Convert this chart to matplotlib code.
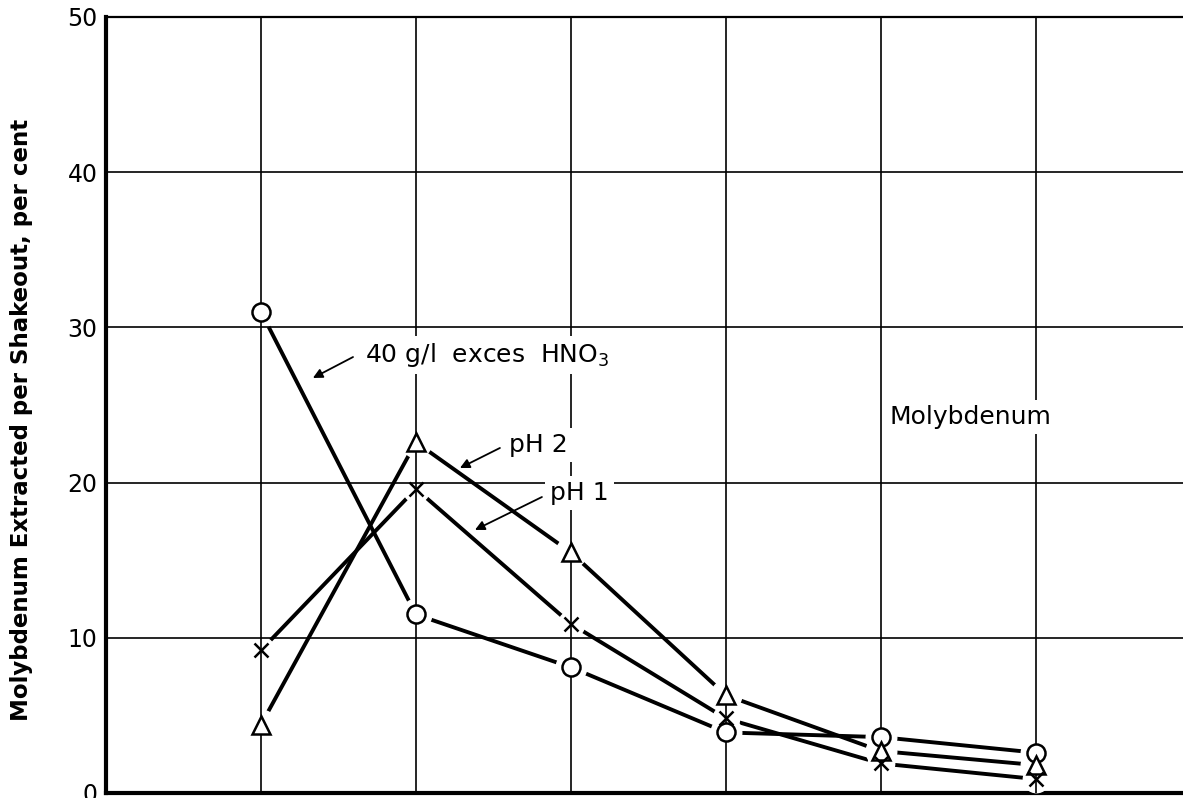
import matplotlib.pyplot as plt
import numpy as np

# numarul extractiei (shakeout)
shakeout = [1, 2, 3, 4, 5, 6]

# procent extras per extractie
hno3_40 = [31.0, 11.5, 8.1, 3.9, 3.6, 2.6]
ph2 = [4.4, 22.6, 15.5, 6.3, 2.7, 1.8]
ph1 = [9.2, 19.6, 10.9, 4.8, 1.9, 0.9]

y_ticks = [0, 10, 20, 30, 40, 50]

fig = plt.figure(figsize=(11.83, 7.98), dpi=100)
ax = fig.add_axes([0.0896, 0.0063, 1 - 0.0896, 0.9724])

ax.set_xlim(0, 6.95)
ax.set_ylim(0, 50)
ax.set_xticks(range(1, 7))
ax.set_yticks(y_ticks)
ax.set_xticklabels([])
ax.set_yticklabels([str(v) for v in y_ticks], fontsize=17)
ax.tick_params(length=0, pad=6)

# grila desenata peste halo-urile albe, sub markere
for xv in shakeout:
    ax.axvline(xv, color='black', linewidth=1.2, zorder=4.5)
for yv in y_ticks[1:-1]:
    ax.axhline(yv, color='black', linewidth=1.2, zorder=4.5)

ax.spines['right'].set_visible(False)
ax.spines['top'].set_linewidth(1.6)
ax.spines['left'].set_linewidth(3)
ax.spines['bottom'].set_linewidth(3)

serii = [(hno3_40, 'o', 13), (ph2, '^', 13), (ph1, 'x', 10)]
for y, m, ms in serii:
    ax.plot(shakeout, y, '-', color='black', linewidth=2.8, zorder=3)
for y, m, ms in serii:
    # halo alb ca liniile sa nu atinga markerele
    ax.plot(shakeout, y, linestyle='none', marker='o', markersize=ms + 9,
            markerfacecolor='white', markeredgecolor='white', zorder=4)
for y, m, ms in serii:
    ax.plot(shakeout, y, linestyle='none', marker=m, markersize=ms,
            markerfacecolor='white', markeredgecolor='black',
            markeredgewidth=1.8, zorder=5)

ax.set_ylabel('Molybdenum Extracted per Shakeout, per cent', fontsize=16.5,
              fontweight='bold')
ax.yaxis.set_label_coords(-0.0678, 0.481)

# sagetile de la etichete la curbe
arrow = dict(arrowstyle='-|>', color='black', linewidth=1.3,
             mutation_scale=14, shrinkA=0, shrinkB=0)
sageti = [((1.594, 28.09), (1.335, 26.74)),
          ((2.542, 22.23), (2.284, 20.94)),
          ((2.813, 19.07), (2.381, 16.95))]
for start, end in sageti:
    ax.annotate('', xy=end, xytext=start, arrowprops=arrow, zorder=6)

box = dict(boxstyle='square,pad=0.2', fc='white', ec='none')
ax.text(1.671, 28.2, '40 g/l  exces  HNO$_3$', fontsize=18, va='center',
        ha='left', bbox=box, zorder=6)
ax.text(2.60, 22.4, 'pH 2', fontsize=18, va='center', ha='left', bbox=box,
        zorder=6)
ax.text(2.865, 19.3, 'pH 1', fontsize=18, va='center', ha='left', bbox=box,
        zorder=6)
ax.text(5.058, 24.2, 'Molybdenum', fontsize=18, va='center', ha='left',
        bbox=box, zorder=6)

plt.savefig('out.png', dpi=100)
